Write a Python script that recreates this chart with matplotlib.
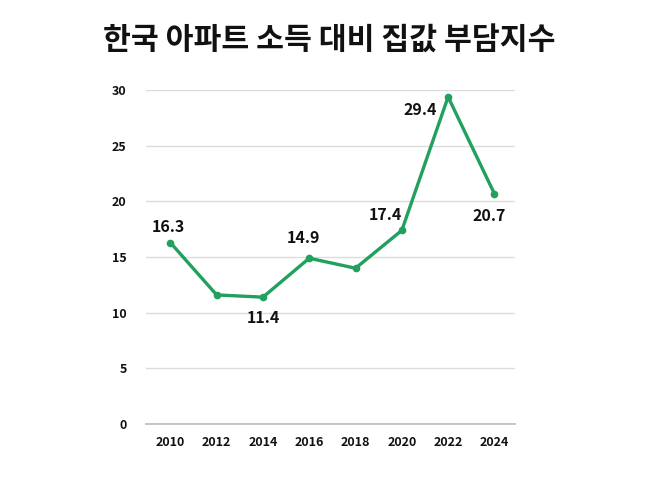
import matplotlib.pyplot as plt

plt.rcParams['font.family'] = ['Noto Sans CJK KR', 'DejaVu Sans']

# data
years = [2010, 2012, 2014, 2016, 2018, 2020, 2022, 2024]
index_values = [16.3, 11.6, 11.4, 14.9, 14.0, 17.4, 29.4, 20.7]
labelled = {2010: 16.3, 2014: 11.4, 2016: 14.9, 2020: 17.4, 2022: 29.4, 2024: 20.7}
# label offsets in pixels (dx, dy)
offsets = {2010: (-2, 16), 2014: (0, -21), 2016: (-6, 20),
           2020: (-16, 15), 2022: (-28, -13), 2024: (-5, -22)}
y_ticks = [0, 5, 10, 15, 20, 25, 30]

green = '#22a05e'

fig = plt.figure(figsize=(6.58, 4.93), dpi=100, facecolor='white')
ax = fig.add_axes([0.222, 0.14, 0.561, 0.677])

ax.plot(years, index_values, color=green, linewidth=2.4, marker='o',
        markersize=4.5, zorder=3, clip_on=False)

for yr, val in labelled.items():
    dx, dy = offsets[yr]
    ax.annotate(f'{val}', (yr, val), xytext=(dx, dy), textcoords='offset pixels',
                ha='center', va='center', fontsize=11.5, fontweight='bold',
                color='#111111')

ax.set_xlim(2008.95, 2024.9)
ax.set_ylim(0, 30)
ax.set_yticks(y_ticks)
ax.set_xticks(years)
ax.grid(axis='y', color='#dcdcdc', linewidth=1)
ax.set_axisbelow(True)
for s in ['top', 'right', 'left']:
    ax.spines[s].set_visible(False)
ax.spines['bottom'].set_color('#bbbbbb')
ax.spines['bottom'].set_linewidth(1.2)
ax.tick_params(length=0, labelsize=9, colors='#111111', pad=9)
ax.tick_params(axis='y', pad=14)
for lbl in ax.get_xticklabels() + ax.get_yticklabels():
    lbl.set_fontweight('bold')

fig.text(0.5, 0.918, '한국 아파트 소득 대비 집값 부담지수', ha='center', va='center',
         fontsize=21.8, fontweight='black', color='#111111')

fig.savefig('out.png', dpi=100)
